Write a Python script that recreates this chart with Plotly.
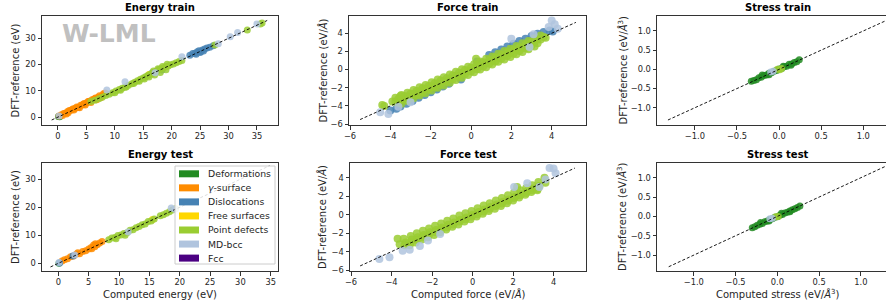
import plotly.graph_objects as go

W, H = 886, 305

categories = ["Deformations", "<i>γ</i>-surface", "Dislocations", "Free surfaces",
              "Point defects", "MD-bcc", "Fcc"]
colors = ["#228B22", "#FF8C00", "#4682B4", "#FFD700", "#9ACD32", "#B0C4DE", "#4B0082"]

# ---------------- Energy train ----------------
etr_def_x = [0.1, 0.3]
etr_def_y = [0.2, 0.1]
etr_gam_x = [0.2, 0.6, 1.0, 1.3, 1.7, 2.0, 2.3, 2.7, 3.0, 3.3, 3.6, 4.0, 4.3, 4.6, 5.0, 5.3,
             5.6, 6.0, 6.3, 6.6, 7.0, 7.3, 7.7, 8.0, 8.3, 1.5, 2.5, 3.5, 4.5, 5.5, 6.5,
             0.8, 1.8, 2.8, 3.8, 4.8, 5.8, 6.8, 7.5]
etr_gam_y = [0.4, 0.9, 1.4, 1.5, 2.1, 2.5, 2.6, 3.2, 3.3, 3.9, 3.8, 4.5, 4.6, 5.2, 5.4, 5.9,
             5.9, 6.6, 6.8, 7.3, 7.5, 8.1, 8.0, 8.9, 9.2, 1.2, 2.9, 3.7, 4.9, 6.0, 7.0,
             0.6, 1.7, 2.7, 3.6, 4.6, 5.6, 6.6, 7.4]
etr_dis_x = [16.6, 17.2, 17.8, 18.3, 23.2, 23.7, 24.1, 24.5, 24.8, 25.1, 25.4, 25.8, 26.2,
             26.7, 27.3, 24.3, 25.0, 25.6]
etr_dis_y = [16.9, 17.4, 18.1, 17.9, 23.6, 24.2, 24.3, 24.9, 25.3, 24.9, 25.6, 25.9, 26.3,
             26.6, 27.2, 23.9, 24.6, 25.2]
etr_free_x = [16.0, 17.0]
etr_free_y = [16.2, 17.1]
etr_pd_x = [5.8, 6.5, 7.2, 7.8, 8.4, 9.0, 9.6, 10.2, 10.8, 11.3, 11.8, 12.4, 13.0, 13.5, 14.0,
            14.5, 15.0, 15.4, 15.8, 16.2, 16.6, 17.0, 17.4, 17.8, 18.2, 18.6, 19.0, 19.4, 19.8,
            20.3, 20.8, 21.3, 21.8, 10.0, 11.0, 12.0, 13.3, 14.3, 15.2, 16.0, 16.8, 17.6, 18.4,
            19.2, 17.0, 18.0, 19.0, 27.6, 33.3, 35.6, 35.9]
etr_pd_y = [5.9, 6.4, 7.0, 7.6, 8.2, 8.7, 9.3, 9.9, 10.5, 11.0, 11.4, 12.1, 12.7, 13.3, 13.8,
            14.4, 14.9, 15.4, 15.8, 16.3, 16.6, 17.1, 17.6, 18.0, 18.5, 18.8, 19.3, 19.5, 19.9,
            20.2, 20.7, 21.2, 21.6, 9.3, 10.2, 11.5, 12.8, 13.7, 14.5, 15.3, 17.6, 18.4, 19.3,
            20.1, 16.0, 17.0, 18.0, 27.5, 33.2, 35.5, 35.8]
etr_md_x = [0.2, 8.6, 11.8, 17.1, 21.8, 28.2, 30.3, 31.6, 35.0]
etr_md_y = [0.4, 10.3, 13.5, 16.9, 23.0, 27.9, 30.6, 32.2, 35.5]
etr_line = [-1.1, 36.8]

# ---------------- Energy test ----------------
ete_def_x = [0.1]
ete_def_y = [0.0]
ete_gam_x = [0.6, 1.0, 1.5, 2.0, 2.5, 3.0, 3.5, 4.0, 4.5, 5.0, 5.4, 5.8, 6.1, 6.4, 6.8, 7.2,
             5.5, 6.0, 3.2]
ete_gam_y = [0.8, 1.3, 1.6, 2.3, 2.6, 3.3, 3.4, 4.2, 4.5, 5.1, 5.6, 6.5, 7.0, 6.6, 7.2, 7.8,
             5.2, 5.9, 3.8]
ete_dis_x = [0.2, 2.4]
ete_dis_y = [0.1, 2.6]
ete_free_x = [15.5]
ete_free_y = [15.6]
ete_pd_x = [8.3, 8.8, 9.3, 9.8, 10.3, 10.8, 11.3, 11.8, 12.3, 12.8, 13.3, 13.8, 14.3, 14.8,
            15.3, 15.8, 16.8, 17.3, 17.8, 18.3, 18.8, 19.3, 11.0, 9.5]
ete_pd_y = [8.4, 9.0, 9.2, 9.9, 10.1, 10.6, 10.9, 11.8, 12.0, 12.7, 13.1, 13.8, 14.0, 14.9,
            15.1, 15.8, 17.0, 17.3, 17.9, 18.4, 19.0, 19.5, 10.0, 8.8]
ete_md_x = [0.1, 2.7, 18.6, 19.2, 11.5]
ete_md_y = [0.3, 3.0, 19.7, 19.3, 11.2]
ete_line = [-1.3, 34.8]

# ---------------- Force train ----------------
ftr_dis_x = [-4.0, -3.7, -3.5, -3.2, -2.9, -2.6, -2.3, -2.0, -1.7, -1.4, -1.1, -0.5, 0.3,
             0.9, 1.2, 1.5, 1.8, 2.1, 2.4, 2.7, 3.0, 3.3, 3.6, 3.9, 4.05]
ftr_dis_y = [-4.5, -4.3, -4.05, -3.75, -3.45, -3.1, -2.8, -2.5, -2.2, -1.85, -1.55, -1.1, 0.9,
             1.6, 1.9, 2.2, 2.55, 2.85, 3.15, 3.4, 3.7, 3.95, 4.15, 4.3, 4.2]
ftr_pd_x = [-3.75, -3.45, -3.15, -2.85, -2.55, -2.25, -1.95, -1.65, -1.35, -1.05, -0.75, -0.45,
            -0.15, 0.15, 0.45, 0.75, 1.05, 1.35, 1.65, 1.95, 2.25, 2.55, 2.85, 3.15, 3.45,
            -3.9, -3.6, -3.3, -3.0, -2.7, -2.4, -2.1, -1.8, -1.5, -1.2, -0.9, -0.6, -0.3, 0.0,
            0.3, 0.6, 0.9, 1.2, 1.5, 1.8, 2.1, 2.4, 2.7, 3.0, 3.3, 3.6,
            -4.3, -3.75, -3.45, -3.15, -2.85, -2.55, -2.25, -1.95, -1.65, -1.35, -1.05, -0.75,
            -0.45, -0.15, 0.15, 0.45, 0.75, 1.05, 1.35, 1.65, 1.95, 2.25, 2.55, 2.85, 3.15,
            3.45, 3.7,
            -3.6, -3.3, -3.0, -2.7, -2.4, -2.1, -1.8, -1.5, -1.2, -0.9, -0.6, -0.3, 0.0, 0.3,
            0.6, 0.9, 1.2, 1.5, 1.8, 2.1, 2.4, 2.7, 3.0, 3.3,
            -3.45, -3.15, -2.85, -2.55, -2.25, -1.95, -1.65, -1.35, -1.05, -0.75, -0.45, -0.15,
            0.15, 0.45, 0.75, 1.05, 1.35, 1.65, 1.95, 2.25, 2.55, 2.85, 3.15,
            -4.4, -3.5, 0.25]
ftr_pd_y = [-3.1, -2.8, -2.55, -2.25, -1.95, -1.7, -1.4, -1.1, -0.85, -0.55, -0.25, 0.05,
            0.3, 0.6, 0.9, 1.2, 1.45, 1.75, 2.05, 2.3, 2.6, 2.9, 3.15, 3.45, 3.75,
            -3.5, -3.2, -2.9, -2.65, -2.35, -2.05, -1.8, -1.5, -1.2, -0.95, -0.65, -0.35, -0.05,
            0.2, 0.5, 0.8, 1.05, 1.35, 1.65, 1.9, 2.2, 2.5, 2.8, 3.05, 3.35, 3.6,
            -4.0, -3.55, -3.3, -3.0, -2.7, -2.4, -2.15, -1.85, -1.55, -1.3, -1.0, -0.7, -0.45,
            -0.15, 0.15, 0.4, 0.7, 1.0, 1.3, 1.55, 1.85, 2.15, 2.4, 2.7, 3.0, 3.3, 3.5,
            -3.65, -3.35, -3.05, -2.8, -2.5, -2.2, -1.95, -1.65, -1.35, -1.1, -0.8, -0.5, -0.2,
            0.05, 0.35, 0.65, 0.9, 1.2, 1.5, 1.75, 2.05, 2.35, 2.65, 2.9,
            -3.75, -3.45, -3.15, -2.85, -2.6, -2.3, -2.0, -1.75, -1.45, -1.15, -0.9, -0.6, -0.3,
            0.0, 0.25, 0.55, 0.85, 1.1, 1.4, 1.7, 1.95, 2.25, 2.55,
            -3.9, -2.9, 1.2]
ftr_md_x = [-4.5, -4.1, -3.6, 4.0, 4.15, 4.3, 3.85, 2.0, 2.9, 3.1, -3.0]
ftr_md_y = [-4.7, -4.9, -4.1, 5.4, 5.0, 4.5, 4.7, 3.4, 2.5, 3.9, -3.6]
ftr_line = [-5.5, 5.2]

# ---------------- Force test ----------------
fte_pd_x = [-3.7, -3.4, -3.05, -2.75, -2.45, -2.15, -1.85, -1.55, -1.25, -0.95, -0.65, -0.35,
            -0.05, 0.25, 0.55, 0.85, 1.15, 1.45, 1.75, 2.05, 2.35, 2.65, 2.95, 3.25,
            -3.6, -3.3, -3.0, -2.7, -2.4, -2.1, -1.8, -1.5, -1.2, -0.9, -0.6, -0.3, 0.0, 0.3,
            0.6, 0.9, 1.2, 1.5, 1.8, 2.1, 2.4, 2.7, 3.0, 3.3, 3.6,
            -3.35, -3.05, -2.75, -2.45, -2.15, -1.85, -1.55, -1.25, -0.95, -0.65, -0.35, -0.05,
            0.25, 0.55, 0.85, 1.15, 1.45, 1.75, 2.05, 2.35, 2.65, 2.95, 3.25,
            -3.1, -2.8, -2.5, -2.2, -1.9, -1.6, -1.3, -1.0, -0.7, -0.4, -0.1, 0.2, 0.5, 0.8,
            1.1, 1.4, 1.7, 2.0, 2.3, 2.6, 2.9, 3.2,
            3.55, 3.2, 2.2]
fte_pd_y = [-2.6, -2.6, -2.3, -2.0, -1.75, -1.5, -1.2, -0.95, -0.65, -0.4, -0.1, 0.15, 0.4,
            0.7, 1.0, 1.25, 1.55, 1.8, 2.1, 2.4, 2.65, 2.9, 3.2, 3.55,
            -3.2, -3.0, -2.7, -2.45, -2.2, -1.9, -1.65, -1.4, -1.1, -0.85, -0.55, -0.3, 0.0, 0.3,
            0.55, 0.85, 1.1, 1.4, 1.65, 1.95, 2.25, 2.55, 2.85, 3.1, 3.45,
            -3.3, -3.0, -2.75, -2.45, -2.2, -1.9, -1.6, -1.35, -1.05, -0.75, -0.5, -0.2, 0.05,
            0.35, 0.65, 0.95, 1.2, 1.5, 1.8, 2.1, 2.35, 2.65, 2.95,
            -3.3, -3.0, -2.7, -2.45, -2.2, -1.9, -1.6, -1.3, -1.05, -0.75, -0.5, -0.2, 0.1, 0.4,
            0.65, 0.95, 1.25, 1.55, 1.85, 2.15, 2.45, 2.75,
            4.0, 2.65, 3.0]
fte_md_x = [-4.6, -4.1, -3.45, -3.1, -2.6, -2.2, 2.05, 2.7, 3.3, 3.8, 4.0, 4.1, 3.6, -1.6]
fte_md_y = [-4.8, -4.6, -3.9, -3.8, -3.4, -2.8, 3.0, 3.4, 3.0, 5.05, 5.0, 4.5, 3.8, -2.1]
fte_line = [-5.55, 5.05]

# ---------------- Stress train ----------------
str_def_x = [-0.33, -0.30, -0.27, -0.24, -0.21, -0.18, -0.15, -0.12, -0.09, -0.06, -0.03, 0.0,
             0.03, 0.06, 0.09, 0.12, 0.15, 0.18, 0.21, 0.24, -0.20, -0.12, 0.05, 0.14]
str_def_y = [-0.31, -0.29, -0.27, -0.22, -0.20, -0.16, -0.15, -0.10, -0.09, -0.05, -0.03, 0.01,
             0.02, 0.07, 0.08, 0.13, 0.14, 0.18, 0.20, 0.25, -0.15, -0.14, 0.08, 0.11]
str_pd_x = [-0.02, 0.01, 0.03]
str_pd_y = [0.0, -0.01, 0.02]
str_md_x = [-0.10, -0.07]
str_md_y = [-0.07, -0.05]
str_line = [-1.32, 1.32]

# ---------------- Stress test ----------------
ste_def_x = [-0.30, -0.27, -0.24, -0.21, -0.18, -0.15, -0.12, -0.09, -0.06, -0.03, 0.0, 0.03,
             0.06, 0.09, 0.12, 0.15, 0.18, 0.21, 0.24, 0.27, -0.20, -0.10, 0.05, 0.15]
ste_def_y = [-0.29, -0.27, -0.23, -0.20, -0.18, -0.14, -0.12, -0.08, -0.06, -0.02, -0.01, 0.03,
             0.05, 0.09, 0.11, 0.14, 0.17, 0.20, 0.23, 0.27, -0.16, -0.12, 0.08, 0.12]
ste_pd_x = [-0.02, 0.01]
ste_pd_y = [-0.01, 0.0]
ste_md_x = [-0.09, -0.06]
ste_md_y = [-0.06, -0.05]
ste_line = [-1.30, 1.32]

# -------------- layout geometry (pixels) --------------
def fx(px):
    return px / W


def fy(py):
    return 1 - py / H


boxes = {
    1: (42, 278, 16, 125), 2: (349, 586, 16, 125), 3: (657, 886, 16, 125),
    4: (42, 278, 163, 271), 5: (350, 586, 163, 271), 6: (657, 886, 163, 271),
}

fig = go.Figure()

OP = 0.85


def add_pts(n, xs, ys, ci, size=7):
    ax = "" if n == 1 else str(n)
    fig.add_trace(go.Scatter(x=xs, y=ys, mode="markers", xaxis="x" + ax, yaxis="y" + ax,
                             marker=dict(size=size, color=colors[ci], opacity=OP,
                                         line=dict(width=0)),
                             showlegend=False, hoverinfo="skip", cliponaxis=True))


def add_line(n, ends):
    ax = "" if n == 1 else str(n)
    fig.add_trace(go.Scatter(x=ends, y=ends, mode="lines", xaxis="x" + ax, yaxis="y" + ax,
                             line=dict(color="black", width=0.9, dash="3px,2px"),
                             showlegend=False, hoverinfo="skip"))


# energy train
add_pts(1, etr_def_x, etr_def_y, 0)
add_pts(1, etr_gam_x, etr_gam_y, 1)
add_pts(1, etr_dis_x, etr_dis_y, 2)
add_pts(1, etr_free_x, etr_free_y, 3)
add_pts(1, etr_pd_x, etr_pd_y, 4)
add_pts(1, etr_md_x, etr_md_y, 5)
add_line(1, etr_line)
# force train
add_pts(2, ftr_dis_x, ftr_dis_y, 2, 8)
add_pts(2, ftr_pd_x, ftr_pd_y, 4, 8)
add_pts(2, ftr_md_x, ftr_md_y, 5, 8)
add_line(2, ftr_line)
# stress train
add_pts(3, str_def_x, str_def_y, 0)
add_pts(3, str_pd_x, str_pd_y, 4)
add_pts(3, str_md_x, str_md_y, 5)
add_line(3, str_line)
# energy test
add_pts(4, ete_def_x, ete_def_y, 0)
add_pts(4, ete_gam_x, ete_gam_y, 1)
add_pts(4, ete_dis_x, ete_dis_y, 2)
add_pts(4, ete_free_x, ete_free_y, 3)
add_pts(4, ete_pd_x, ete_pd_y, 4)
add_pts(4, ete_md_x, ete_md_y, 5)
add_line(4, ete_line)
# force test
add_pts(5, fte_pd_x, fte_pd_y, 4, 8)
add_pts(5, fte_md_x, fte_md_y, 5, 8)
add_line(5, fte_line)
# stress test
add_pts(6, ste_def_x, ste_def_y, 0)
add_pts(6, ste_pd_x, ste_pd_y, 4)
add_pts(6, ste_md_x, ste_md_y, 5)
add_line(6, ste_line)

FONT = "DejaVu Sans"
TXT = "#262626"
axis_common = dict(showline=True, linecolor="#333333", linewidth=1, ticks="outside",
                   ticklen=3.5, tickwidth=0.8, tickcolor="#333333", showgrid=False,
                   zeroline=False, automargin=False,
                   tickfont=dict(family=FONT, size=8.3, color=TXT))

ranges = {
    1: ([-2.8, 38.7], [-3.0, 38.5], [0, 5, 10, 15, 20, 25, 30, 35], [0, 10, 20, 30], None),
    4: ([-2.7, 36.2], [-2.75, 35.8], [0, 5, 10, 15, 20, 25, 30, 35], [0, 10, 20, 30], None),
    2: ([-6.05, 5.7], [-6.1, 5.9], [-6, -4, -2, 0, 2, 4], [-6, -4, -2, 0, 2, 4], None),
    5: ([-6.05, 5.6], [-6.1, 5.6], [-6, -4, -2, 0, 2, 4], [-6, -4, -2, 0, 2, 4], None),
    3: ([-1.45, 1.27], [-1.45, 1.39], [-1, -0.5, 0, 0.5, 1], [-1, -0.5, 0, 0.5, 1], ".1f"),
    6: ([-1.44, 1.30], [-1.41, 1.38], [-1, -0.5, 0, 0.5, 1], [-1, -0.5, 0, 0.5, 1], ".1f"),
}

layout = {}
for n, (x0, x1, y0, y1) in boxes.items():
    ax = "" if n == 1 else str(n)
    xr, yr, xt, yt, fmt = ranges[n]
    xa = dict(axis_common, domain=[fx(x0), min(1.0, fx(x1))], range=xr, tickvals=xt,
              anchor="y" + ax, mirror=True)
    ya = dict(axis_common, domain=[fy(y1), fy(y0)], range=yr, tickvals=yt,
              anchor="x" + ax, mirror=(n not in (3, 6)))
    if fmt:
        xa["tickformat"] = fmt
        ya["tickformat"] = fmt
    layout["xaxis" + ax] = xa
    layout["yaxis" + ax] = ya

fig.update_layout(**layout)

annotations = []
titles = {1: "Energy train", 2: "Force train", 3: "Stress train",
          4: "Energy test", 5: "Force test", 6: "Stress test"}
ylabels = {1: "DFT-reference (eV)", 2: "DFT-reference (eV/<i>Å</i>)",
           3: "DFT-reference (eV/<i>Å</i><sup>3</sup>)"}
xlabels = {4: "Computed energy (eV)", 5: "Computed force (eV/<i>Å</i>)",
           6: "Computed stress (eV/<i>Å</i><sup>3</sup>)"}
ylab_x = {1: 15, 2: 322, 3: 622}

for n, (x0, x1, y0, y1) in boxes.items():
    cx = (x0 + x1) / 2 if n not in (3, 6) else (657 + 898) / 2
    annotations.append(dict(text="<b>" + titles[n] + "</b>", x=fx(cx), y=fy(y0 - 8.5),
                            xref="paper", yref="paper", showarrow=False,
                            font=dict(family=FONT, size=10, color="black"),
                            xanchor="center", yanchor="middle"))
    col = (n - 1) % 3 + 1
    annotations.append(dict(text=ylabels[col], x=fx(ylab_x[col]), y=fy((y0 + y1) / 2),
                            xref="paper", yref="paper", showarrow=False, textangle=-90,
                            font=dict(family=FONT, size=10, color=TXT),
                            xanchor="center", yanchor="middle"))
    if n in xlabels:
        annotations.append(dict(text=xlabels[n], x=fx(cx), y=fy(294),
                                xref="paper", yref="paper", showarrow=False,
                                font=dict(family=FONT, size=10, color=TXT),
                                xanchor="center", yanchor="middle"))

# watermark
annotations.append(dict(text="<b>W-LML</b>", x=fx(60), y=fy(34), xref="paper", yref="paper",
                        showarrow=False, xanchor="left", yanchor="middle",
                        font=dict(family=FONT, size=25, color="#c0c0c0")))

# manual legend (matplotlib-style patches) in Energy test panel
shapes = [dict(type="rect", xref="paper", yref="paper", x0=fx(175), x1=fx(275),
               y0=fy(264), y1=fy(166), line=dict(color="#cccccc", width=1),
               fillcolor="rgba(255,255,255,0.85)", layer="above")]
for i, (lab, c) in enumerate(zip(categories, colors)):
    yc = 173.8 + i * 14.05
    shapes.append(dict(type="rect", xref="paper", yref="paper", x0=fx(179), x1=fx(199),
                       y0=fy(yc + 3.5), y1=fy(yc - 3.5), line=dict(width=0), fillcolor=c,
                       layer="above"))
    annotations.append(dict(text=lab, x=fx(206), y=fy(yc), xref="paper", yref="paper",
                            showarrow=False, xanchor="left", yanchor="middle",
                            font=dict(family=FONT, size=9.3, color=TXT)))

fig.update_layout(annotations=annotations, shapes=shapes, width=W, height=H,
                  margin=dict(l=0, r=0, t=0, b=0), plot_bgcolor="white",
                  paper_bgcolor="white", showlegend=False)

fig.write_html("out.html", config={"displayModeBar": False},
               post_script="document.body.style.margin='0';document.body.style.padding='0';"
                           "document.body.style.overflow='hidden';")
